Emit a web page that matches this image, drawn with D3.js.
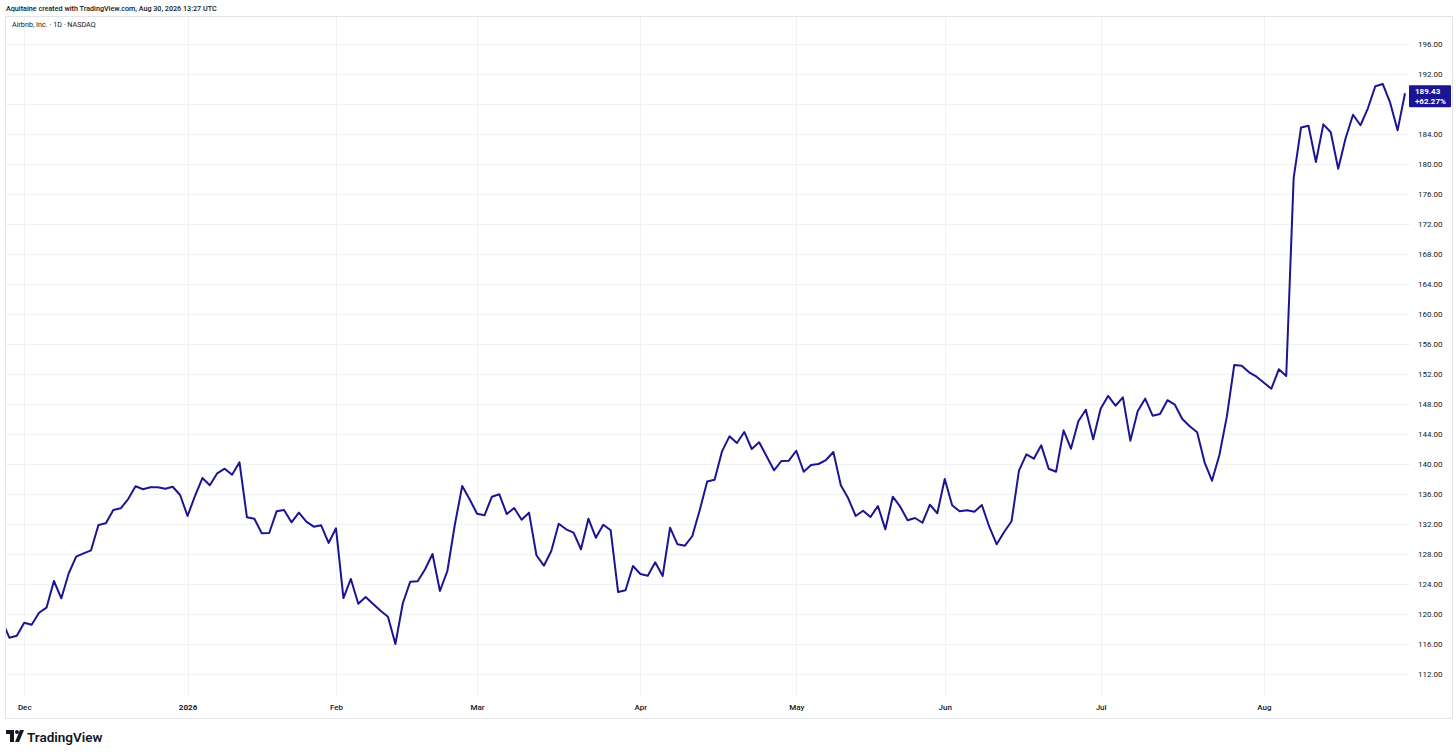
<!DOCTYPE html>
<html><head><meta charset="utf-8">
<script src="https://cdn.jsdelivr.net/npm/d3@7/dist/d3.min.js"></script>
<style>
html,body{margin:0;padding:0;background:#fff;}
svg{display:block;font-family:Roboto,"Noto Sans",sans-serif;}
</style></head>
<body><svg id="c" width="1456" height="754"></svg>
<script>
// ---- data ----
const headerText = "Aquitaine created with TradingView.com, Aug 30, 2026 13:27 UTC";
const symbolText = "Airbnb, Inc. · 1D · NASDAQ";
const lastPriceText = "189.43";
const lastChangeText = "+62.27%";
const monthLabels = ["Dec","2026","Feb","Mar","Apr","May","Jun","Jul","Aug"];
const monthIndex  = [3, 25, 45, 64, 86, 107, 127, 148, 170];
const priceTicks = [112,116,120,124,128,132,136,140,144,148,152,156,160,164,168,172,176,180,184,188,192,196];
// daily closes, Nov 25 2025 .. Aug 28 2026
const closes = [
119.12,116.84,117.11,118.84,118.57,120.17,120.84,124.40,122.09,125.43,
127.64,128.09,128.49,131.87,132.09,133.87,134.09,135.33,137.03,136.63,
136.89,136.90,136.71,136.97,135.87,133.07,135.73,138.13,137.16,138.76,
139.37,138.57,140.23,132.89,132.71,130.76,130.80,133.69,133.87,132.23,
133.51,132.31,131.64,131.83,129.47,131.43,122.13,124.67,121.37,122.27,
121.33,120.44,119.64,116.00,121.43,124.31,124.36,125.96,128.00,123.07,
125.73,131.87,137.07,135.29,133.37,133.16,135.64,135.96,133.33,134.13,
132.57,133.51,127.83,126.44,128.40,132.04,131.29,130.84,128.63,132.71,
130.17,131.91,131.16,122.93,123.16,126.40,125.33,125.11,126.89,125.07,
131.51,129.29,129.11,130.40,133.87,137.67,137.91,141.69,143.69,142.80,
144.27,142.00,142.89,141.03,139.16,140.40,140.44,141.77,138.97,139.87,
140.00,140.53,141.60,137.16,135.43,133.07,133.77,132.93,134.40,131.29,
135.64,134.31,132.49,132.80,132.17,134.57,133.43,138.00,134.49,133.69,
133.83,133.64,134.53,131.64,129.29,130.93,132.36,139.11,141.29,140.71,
142.49,139.37,138.97,144.49,142.04,145.69,147.24,143.29,147.37,149.07,
147.77,148.89,143.11,147.07,148.71,146.44,146.67,148.51,147.91,146.00,
145.03,144.23,140.23,137.77,141.20,146.31,153.20,153.11,152.23,151.64,
150.84,150.04,152.63,151.73,178.13,184.87,185.11,180.27,185.29,184.23,
179.37,183.43,186.57,185.16,187.43,190.36,190.67,188.17,184.49,189.43
];

// ---- layout ----
const plot = {left:5, top:16, right:1410, bottom:697};
const outerRight = 1452, outerBottom = 718;
const lineColor = "#1b1592";
const gridColor = "#f1f2f4";
const borderColor = "#e3e5ea";
const textColor = "#131722";

const svg = d3.select("#c");

const x = d3.scaleLinear().domain([0, closes.length - 1]).range([1.95, 1405]);
const y = d3.scaleLinear().domain([112, 196]).range([674, 44]);
const lastY = y(closes[closes.length-1]);

// header
svg.append("text").attr("x",6).attr("y",11).attr("font-size",7.2).attr("font-weight",500)
  .attr("fill",textColor).text(headerText);

// outer frame
svg.append("rect").attr("x",plot.left+0.5).attr("y",plot.top+0.5)
  .attr("width",outerRight-plot.left).attr("height",outerBottom-plot.top)
  .attr("fill","none").attr("stroke",borderColor).attr("stroke-width",1);

// grid
const grid = svg.append("g");
grid.selectAll("line.h").data(priceTicks).join("line")
  .attr("x1",plot.left+1).attr("x2",plot.right)
  .attr("y1",d=>Math.round(y(d))+0.5).attr("y2",d=>Math.round(y(d))+0.5)
  .attr("stroke",gridColor).attr("stroke-width",1);
grid.selectAll("line.v").data(monthIndex).join("line")
  .attr("y1",plot.top+1).attr("y2",plot.bottom)
  .attr("x1",d=>Math.round(x(d))+0.5).attr("x2",d=>Math.round(x(d))+0.5)
  .attr("stroke",gridColor).attr("stroke-width",1);

// symbol title
svg.append("text").attr("x",12).attr("y",27).attr("font-size",7.2)
  .attr("fill",textColor).text(symbolText);

// clip + line
svg.append("clipPath").attr("id","pc").append("rect")
  .attr("x",plot.left+1).attr("y",plot.top+1)
  .attr("width",plot.right-plot.left-1).attr("height",plot.bottom-plot.top-1);
const line = d3.line().x((d,i)=>x(i)).y(d=>y(d));
svg.append("path").datum(closes).attr("clip-path","url(#pc)")
  .attr("d",line).attr("fill","none").attr("stroke",lineColor)
  .attr("stroke-width",2).attr("stroke-linejoin","round");

// right price axis (labels hidden under the last-price box are skipped)
const visibleTicks = priceTicks.filter(t => Math.abs(y(t) - lastY) > 14);
const yAxis = d3.axisRight(y).tickValues(visibleTicks).tickFormat(d3.format(".2f")).tickSize(0).tickPadding(8);
const ya = svg.append("g").attr("transform",`translate(${plot.right},0)`).call(yAxis);
ya.select(".domain").remove();
ya.selectAll("text").attr("font-size",8).attr("fill",textColor)
  .attr("font-family","Roboto,'Noto Sans',sans-serif");

// bottom time axis
const xAxis = d3.axisBottom(x).tickValues(monthIndex)
  .tickFormat((d,i)=>monthLabels[i]).tickSize(0).tickPadding(7);
const xa = svg.append("g").attr("transform",`translate(0,${plot.bottom})`).call(xAxis);
xa.select(".domain").remove();
xa.selectAll("text").attr("font-size",8).attr("fill",textColor)
  .attr("font-family","Roboto,'Noto Sans',sans-serif")
  .attr("font-weight",(d,i)=>monthLabels[i]==="2026"?700:500);

// last price label
const lbl = svg.append("g").attr("transform",`translate(${plot.right-1},${lastY-8})`);
lbl.append("rect").attr("x",0).attr("y",0).attr("width",42).attr("height",22).attr("rx",1).attr("fill",lineColor);
lbl.append("text").attr("x",6).attr("y",9).attr("font-size",8).attr("font-weight",700).attr("fill","#fff").text(lastPriceText);
lbl.append("text").attr("x",6).attr("y",19).attr("font-size",8).attr("font-weight",700).attr("fill","#fff").text(lastChangeText);

// TradingView logo
const logo = svg.append("g").attr("transform","translate(6,730)");
logo.append("path").attr("d","M0 0 H8 V12 H4 V4 H0 Z").attr("fill","#131722");
logo.append("circle").attr("cx",11).attr("cy",2).attr("r",2).attr("fill","#131722");
logo.append("path").attr("d","M14 0 H18 L13 12 H9 Z").attr("fill","#131722");
svg.append("text").attr("x",27).attr("y",742).attr("font-size",13.5).attr("font-weight",600)
  .attr("fill","#131722").text("TradingView");
</script></body></html>
